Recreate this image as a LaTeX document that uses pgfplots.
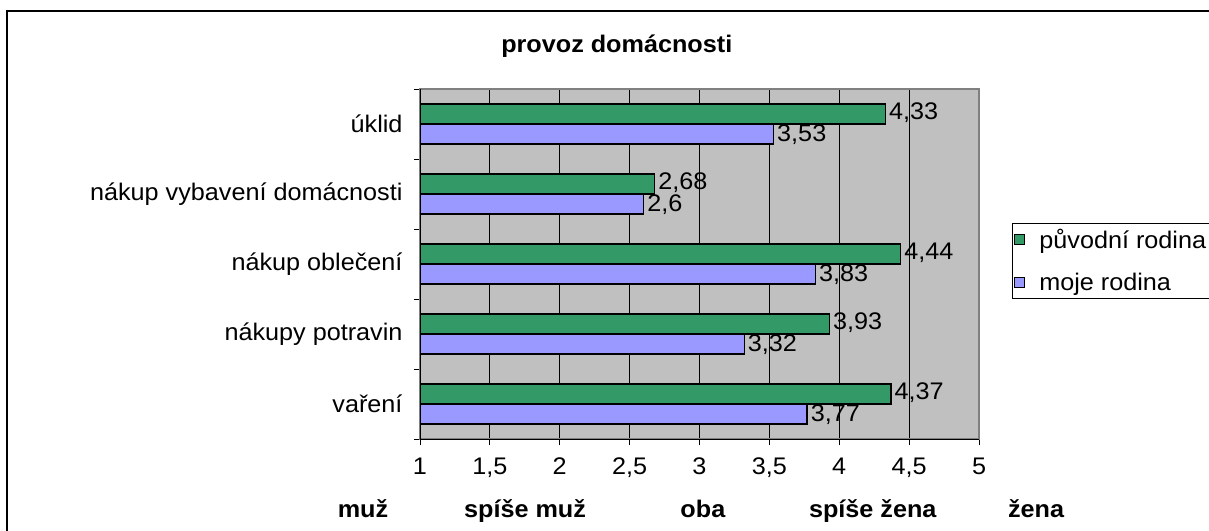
\documentclass[border=0pt]{standalone}
\usepackage{pgfplots}
\pgfplotsset{compat=1.18}
\usepackage{fontspec}
\setmainfont[FakeStretch=1.05]{Liberation Sans}
\definecolor{grn}{HTML}{339966}
\definecolor{blu}{HTML}{9999FF}
\definecolor{bg}{HTML}{C0C0C0}
\definecolor{frm}{HTML}{808080}
\begin{document}
\begin{tikzpicture}[font=\fontsize{24bp}{28bp}\selectfont]
\path[use as bounding box] (0,0) rectangle (1209bp,531bp);
\draw[black, line width=1.2bp] (7bp,0) -- (7bp,520bp) -- (1209bp,520bp);
\begin{axis}[
  at={(420bp,92bp)}, anchor=south west,
  scale only axis, width=559bp, height=350bp,
  xbar, bar width=20bp,
  xmin=1, xmax=5, ymin=-0.5, ymax=4.5,
  xtick={1,1.5,...,5},
  ytick={-0.5,0.5,1.5,2.5,3.5,4.5}, yticklabels={},
  extra y ticks={0,1,2,3,4},
  extra y tick labels={vaření,nákupy potravin,nákup oblečení,nákup vybavení domácnosti,úklid},
  extra y tick style={major tick length=0pt},
  tick align=outside, tick pos=left, major tick length=6bp,
  xmajorgrids, major grid style={black, line width=0.8bp},
  axis background/.style={fill=bg},
  axis line style={frm, line width=1.5bp},
  tick style={black, line width=0.8bp},
  /pgf/number format/use comma,
  /pgf/number format/assume math mode=true,
  xticklabel style={yshift=-9bp},
  yticklabel style={xshift=-14bp},
  clip mode=individual,
  nodes near coords,
  nodes near coords style={anchor=west, inner xsep=3bp, inner ysep=0bp},
  legend style={at={(1.059,0.617)}, anchor=north west, draw=black, line width=0.8bp, fill=white,
     row sep=19bp, inner xsep=2bp, inner ysep=4bp,
     /tikz/every odd column/.append style={column sep=12bp}},
  legend cell align=left,
  legend image code/.code={\draw[#1, line width=1bp] (7bp,-5bp) rectangle (17bp,5bp);},
]
\addplot[fill=grn, draw=black, line width=1.3bp, bar shift=10bp,
  nodes near coords style={yshift=1bp}] coordinates {
  (4.37,0) (3.93,1) (4.44,2) (2.68,3) (4.33,4)};
\addplot[fill=blu, draw=black, line width=1.3bp, bar shift=-10bp,
  nodes near coords style={yshift=-1bp}] coordinates {
  (3.77,0) (3.32,1) (3.83,2) (2.6,3) (3.53,4)};
\legend{původní rodina, moje rodina}
\draw[black, line width=1bp] (rel axis cs:0,1) -- (rel axis cs:0,0) -- (rel axis cs:1,0);
\node[anchor=base, font=\fontsize{24bp}{28bp}\selectfont\bfseries] at (axis description cs:0.352,1.1029) {provoz domácnosti};
\node[anchor=base, font=\fontsize{24bp}{28bp}\selectfont\bfseries] at (axis description cs:-0.102,-0.2229) {muž};
\node[anchor=base, font=\fontsize{24bp}{28bp}\selectfont\bfseries] at (axis description cs:0.188,-0.2229) {spíše muž};
\node[anchor=base, font=\fontsize{24bp}{28bp}\selectfont\bfseries] at (axis description cs:0.506,-0.2229) {oba};
\node[anchor=base, font=\fontsize{24bp}{28bp}\selectfont\bfseries] at (axis description cs:0.810,-0.2229) {spíše žena};
\node[anchor=base, font=\fontsize{24bp}{28bp}\selectfont\bfseries] at (axis description cs:1.102,-0.2229) {žena};
\end{axis}
\end{tikzpicture}
\end{document}
